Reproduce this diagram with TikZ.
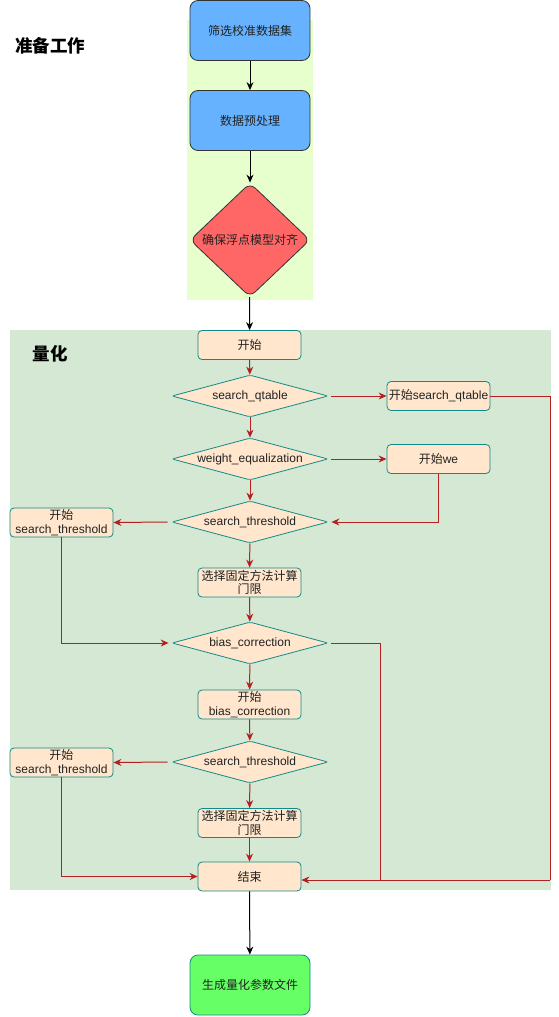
\documentclass[tikz,border=0pt]{standalone}
\usepackage{fontspec}
\setmainfont{Liberation Sans}
\newfontfamily\cjk{Noto Sans CJK SC}
\usetikzlibrary{shapes.geometric,arrows.meta}
\definecolor{topbg}{HTML}{E6FFCC}
\definecolor{qbg}{HTML}{D5E8D4}
\definecolor{peach}{HTML}{FFE6CC}
\definecolor{tealb}{HTML}{128A8A}
\definecolor{redl}{HTML}{B22020}
\definecolor{blue1}{HTML}{66B2FF}
\definecolor{red1}{HTML}{FF6666}
\definecolor{green1}{HTML}{66FF66}
\definecolor{txt}{HTML}{222222}
\tikzset{
  every node/.style={font=\fontsize{12pt}{14pt}\selectfont, text=txt},
  bigbox/.style={draw=black!80, rounded corners=8pt, minimum width=120pt, minimum height=60pt, inner sep=0pt, line width=0.8pt},
  pbox/.style={draw=tealb, fill=peach, rounded corners=4pt, minimum width=103pt, minimum height=29pt, inner sep=0pt, align=center, line width=0.8pt, font=\fontsize{12pt}{13.5pt}\selectfont},
  cjkbox/.style={pbox, font=\cjk\fontsize{12pt}{13.5pt}\selectfont},
  pdia/.style={diamond, draw=tealb, fill=peach, minimum width=156pt, minimum height=42pt, aspect=3.7, inner sep=0pt, line width=0.8pt, rounded corners=2pt},
  rarr/.style={draw=redl, line width=1pt, -{Stealth[length=8pt,width=7pt]}},
  rline/.style={draw=redl, line width=1pt},
  barr/.style={draw=black, line width=1pt, -{Stealth[length=8pt,width=7pt]}},
  title/.style={font=\cjk\bfseries\fontsize{17.5pt}{20pt}\selectfont, text=black}
}
\begin{document}
\begin{tikzpicture}[x=1pt,y=-1pt]
\useasboundingbox (0,0) rectangle (559,1017);
% panels
\fill[topbg] (187,20) rectangle (313,300);
\fill[qbg] (10,330) rectangle (551,890);
\node[title] (t1) at (50,46) {准备工作};
\node[title] (t2) at (50,354) {量化};
% top section
\node[bigbox, fill=blue1] (b1) at (250,30.5) {\cjk 筛选校准数据集};
\node[bigbox, fill=blue1] (b2) at (250,120.5) {\cjk 数据预处理};
\node[diamond, draw=black!80, fill=red1, minimum width=120pt, minimum height=114pt, aspect=1, inner sep=0pt, rounded corners=7pt, line width=0.8pt] (d0) at (250,240) {\cjk 确保浮点模型对齐};
\draw[barr] (b1) -- (b2);
\draw[barr] (b2) -- (d0);
% quantization section
\node[cjkbox] (start) at (249.5,345) {开始};
\node[pdia] (dq) at (250,396) {search\_qtable};
\node[pbox] (sq) at (438.5,396) {{\cjk 开始}search\_qtable};
\node[pdia] (dw) at (250,459) {weight\_equalization};
\node[pbox] (sw) at (438.5,459) {{\cjk 开始}we};
\node[pdia] (dt) at (250,522) {search\_threshold};
\node[pbox] (st) at (61.5,522.5) {{\cjk 开始}\\search\_threshold};
\node[cjkbox] (f1) at (249.5,582.5) {选择固定方法计算\\门限};
\node[pdia] (db) at (250,643) {bias\_correction};
\node[pbox] (sb) at (249.5,704.5) {{\cjk 开始}\\bias\_correction};
\node[pdia] (dt2) at (250,762) {search\_threshold};
\node[pbox] (st2) at (61.5,762.5) {{\cjk 开始}\\search\_threshold};
\node[cjkbox] (f2) at (249.5,823) {选择固定方法计算\\门限};
\node[cjkbox] (end) at (249.5,876.5) {结束};
\node[bigbox, draw=tealb, fill=green1] (gen) at (250,985) {\cjk 生成量化参数文件};
\draw[barr] (d0) -- (start);
\draw[rarr] (start) -- (dq);
\draw[rarr] (dq) -- (dw);
\draw[rarr] (dw) -- (dt);
\draw[rarr] (dt) -- (f1);
\draw[rarr] (f1) -- (db);
\draw[rarr] (db) -- (sb);
\draw[rarr] (sb) -- (dt2);
\draw[rarr] (dt2) -- (f2);
\draw[rarr] (f2) -- (end);
\draw[rarr] ([xshift=3pt]dq.east) -- (sq.west);
\draw[rarr] ([xshift=3pt]dw.east) -- (sw.west);
\draw[rarr] ([xshift=-4pt]dt.west) -- (st.east);
\draw[rarr] ([xshift=-4pt]dt2.west) -- (st2.east);
\coordinate (rc) at (550,880);
\coordinate (mc) at (380,880);
\draw[rline] (sq.east) -| (rc);
\draw[rarr] (rc) -- (end.east |- rc);
\draw[rline] ([xshift=3pt]db.east) -| (mc);
\draw[rarr] (sw.south) |- ([xshift=3pt]dt.east);
\draw[rarr] (st.south) |- ([xshift=-3pt]db.west);
\draw[rarr] (st2.south) |- (end.west);
\draw[barr] (end) -- (gen);
\end{tikzpicture}
\end{document}
